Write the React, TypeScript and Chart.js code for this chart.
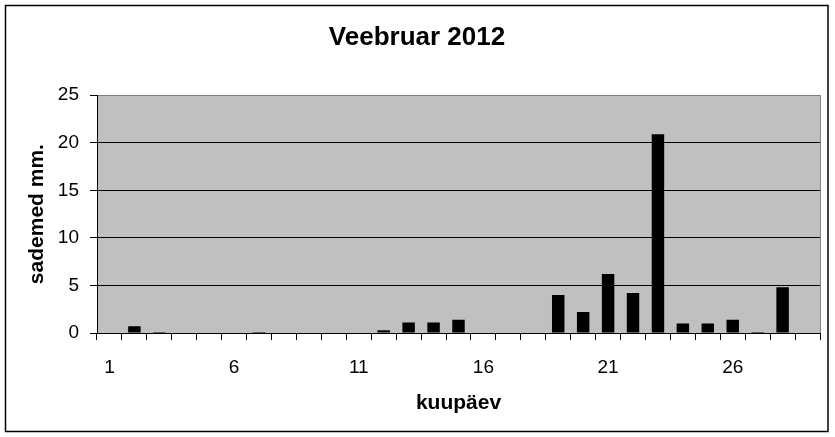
import { useEffect, useRef } from "react";
import Chart from "chart.js/auto";

const days = Array.from({ length: 29 }, (_, i) => String(i + 1));
const rain = [
  0, 0.7, 0.1, 0, 0, 0, 0.1, 0, 0, 0, 0, 0.3, 1.1, 1.1, 1.4, 0, 0, 0, 4.0, 2.2,
  6.2, 4.2, 20.9, 1.0, 1.0, 1.4, 0.1, 4.8, 0,
];
const shownDays = ["1", "6", "11", "16", "21", "26"];
const yTicks = [0, 5, 10, 15, 20, 25];

const FONT = "'Liberation Sans', Arial, sans-serif";

const plotFrame = {
  id: "plotFrame",
  beforeDraw(chart: Chart) {
    const { ctx, chartArea: a } = chart;
    ctx.save();
    ctx.fillStyle = "#c0c0c0";
    ctx.fillRect(a.left, a.top, a.right - a.left, a.bottom - a.top);
    ctx.restore();
  },
  afterDraw(chart: Chart) {
    const { ctx, chartArea: a } = chart;
    ctx.save();
    ctx.strokeStyle = "#808080";
    ctx.lineWidth = 1;
    ctx.beginPath();
    ctx.moveTo(a.right + 0.5, a.top);
    ctx.lineTo(a.right + 0.5, a.bottom);
    ctx.stroke();
    ctx.strokeStyle = "#000";
    ctx.lineWidth = 1.5;
    ctx.strokeRect(5.5, 5.5, 822.5, 426);
    ctx.restore();
  },
};

export default function App() {
  const canvasRef = useRef<HTMLCanvasElement>(null);

  useEffect(() => {
    document.body.style.margin = "0";
    if (!canvasRef.current) return;

    const chart = new Chart(canvasRef.current, {
      type: "bar",
      data: {
        labels: days,
        datasets: [
          {
            data: rain,
            backgroundColor: "#000",
            borderWidth: 0,
            barPercentage: 0.5,
            categoryPercentage: 1,
          },
        ],
      },
      options: {
        responsive: false,
        animation: false,
        layout: { padding: { left: 14, right: 15, top: 0, bottom: 0 } },
        plugins: {
          legend: { display: false },
          tooltip: { enabled: false },
          title: {
            display: true,
            text: "Veebruar 2012",
            color: "#000",
            font: { family: FONT, size: 26, weight: "bold" },
            padding: { top: 22, bottom: 42 },
          },
        },
        scales: {
          x: {
            grid: {
              offset: true,
              drawOnChartArea: false,
              tickLength: 7,
              tickColor: "#000",
              color: "#000",
            },
            border: { color: "#000", width: 1 },
            ticks: {
              autoSkip: false,
              maxRotation: 0,
              padding: 16,
              color: "#000",
              font: { family: FONT, size: 19 },
              callback: (_v, i) => (shownDays.includes(days[i]) ? days[i] : ""),
            },
            title: {
              display: true,
              text: "kuupäev",
              color: "#000",
              font: { family: FONT, size: 21, weight: "bold" },
              padding: { top: 0, bottom: 21 },
            },
            afterFit: (s) => {
              s.height = 104;
            },
          },
          y: {
            min: 0,
            max: 25,
            afterBuildTicks: (s) => {
              s.ticks = yTicks.map((v) => ({ value: v }));
            },
            grid: {
              tickLength: 7,
              tickColor: "#000",
              color: (c) => (c.tick && c.tick.value === 25 ? "#808080" : "#000"),
            },
            border: { color: "#000", width: 1 },
            ticks: {
              padding: 11,
              color: "#000",
              font: { family: FONT, size: 19 },
            },
            title: {
              display: true,
              text: "sademed mm.",
              color: "#000",
              font: { family: FONT, size: 21, weight: "bold" },
              padding: { top: 11, bottom: 0 },
            },
            afterFit: (s) => {
              s.width = 83;
            },
          },
        },
      },
      plugins: [plotFrame],
    });

    return () => chart.destroy();
  }, []);

  return (
    <div style={{ width: 835, height: 437, background: "#fff" }}>
      <canvas ref={canvasRef} width={835} height={437} />
    </div>
  );
}
